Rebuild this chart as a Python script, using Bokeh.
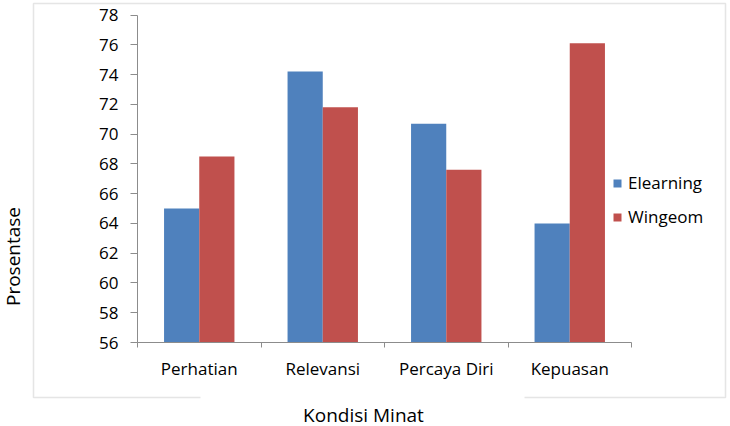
import math
from bokeh.plotting import figure
from bokeh.models import (ColumnDataSource, Range1d, FixedTicker, LinearAxis,
                          Label, PolyAnnotation, Legend, LegendItem)
from bokeh.embed import file_html
from bokeh.resources import INLINE

categories = ["Perhatian", "Relevansi", "Percaya Diri", "Kepuasan"]
elearning = [65.0, 74.2, 70.7, 64.0]
wingeom = [68.5, 71.8, 67.6, 76.1]
y_ticks = [56, 58, 60, 62, 64, 66, 68, 70, 72, 74, 76, 78]
x_title = "Kondisi Minat"
y_title = "Prosentase"
legend_labels = ["Elearning", "Wingeom"]

FONT = "Open Sans"
BLUE = "#4F81BD"
RED = "#C0504D"
GRID = "#8C8C8C"
BORDER = "#A8A8A8"

# canvas and plot-area layout (pixels from top-left)
W, H = 730, 426
PL, PR, PT, PB = 137, 631, 14.5, 342

n = len(categories)
x_lo, x_hi = -0.5, n - 0.5
y_lo, y_hi = y_ticks[0], y_ticks[-1]
kx = (PR - PL) / (x_hi - x_lo)
ky = (PB - PT) / (y_hi - y_lo)
x_range = Range1d(x_lo - PL / kx, x_hi + (W - PR) / kx)
y_range = Range1d(y_lo - (H - PB) / ky, y_hi + PT / ky)

idx = list(range(n))
bar_w = 0.285
src = ColumnDataSource(dict(
    xe=[i - bar_w / 2 for i in idx],
    xw=[i + bar_w / 2 for i in idx],
    e=elearning, w=wingeom,
))

p = figure(width=W, height=H, output_backend="svg", toolbar_location=None,
           x_range=x_range, y_range=y_range,
           x_axis_type=None, y_axis_type=None,
           min_border_left=0, min_border_right=0,
           min_border_top=0, min_border_bottom=0)
p.outline_line_color = None
p.background_fill_color = "white"
p.border_fill_color = "white"

# grid
p.ygrid.ticker = FixedTicker(ticks=y_ticks)
p.ygrid.grid_line_color = GRID
p.ygrid.grid_line_width = 1
p.ygrid.bounds = (x_lo, x_hi)
p.xgrid.visible = False

re = p.vbar(x="xe", top="e", bottom=y_lo, width=bar_w, source=src,
            fill_color=BLUE, line_color=None)
rw = p.vbar(x="xw", top="w", bottom=y_lo, width=bar_w, source=src,
            fill_color=RED, line_color=None)

# y axis
yax = LinearAxis(ticker=FixedTicker(ticks=y_ticks, minor_ticks=[]),
                 fixed_location=x_lo, bounds=(y_lo, y_hi))
yax.axis_line_color = GRID
yax.major_tick_line_color = GRID
yax.major_tick_out = 7
yax.major_tick_in = 0
yax.minor_tick_line_color = None
yax.major_label_standoff = 12
yax.major_label_text_font = FONT
yax.major_label_text_font_size = "17px"
yax.major_label_text_color = "black"
p.add_layout(yax, "left")

# x axis
bounds = [i - 0.5 for i in idx] + [idx[-1] + 0.5]
xax = LinearAxis(ticker=FixedTicker(ticks=idx, minor_ticks=bounds),
                 fixed_location=y_lo, bounds=(x_lo, x_hi))
xax.major_label_overrides = {i: c for i, c in zip(idx, categories)}
xax.axis_line_color = GRID
xax.major_tick_line_color = None
xax.major_tick_out = 0
xax.major_tick_in = 0
xax.minor_tick_line_color = GRID
xax.minor_tick_out = 5
xax.minor_tick_in = 0
xax.major_label_standoff = 9
xax.major_label_text_font = FONT
xax.major_label_text_font_size = "17px"
xax.major_label_text_color = "black"
p.add_layout(xax, "below")


def sx(px):
    return px


def sy(py):
    return H - py


# chart-area border (open at the bottom behind the title)
bpx = [200, 33, 33, 725, 725, 524]
bpy = [397, 397, 3, 3, 397, 397]
px = [sx(v) for v in bpx + bpx[-2:0:-1]]
py = [sy(v) for v in bpy + bpy[-2:0:-1]]
p.add_layout(PolyAnnotation(xs=px, ys=py, xs_units="screen", ys_units="screen",
                            fill_alpha=0, line_color=BORDER, line_width=1.5))

p.add_layout(Label(x=sx(363), y=sy(414), x_units="screen", y_units="screen",
                   text=x_title, text_align="center", text_baseline="alphabetic",
                   text_font=FONT, text_font_size="19px", text_color="black"))
p.add_layout(Label(x=sx(12), y=sy(256), x_units="screen", y_units="screen",
                   text=y_title, angle=math.pi / 2, text_align="center",
                   text_baseline="alphabetic",
                   text_font=FONT, text_font_size="19px", text_color="black"))

legend = Legend(items=[LegendItem(label=legend_labels[0], renderers=[re]),
                       LegendItem(label=legend_labels[1], renderers=[rw])],
                location=(sx(612), sy(228)))
legend.padding = 0
legend.margin = 0
legend.spacing = 11
legend.glyph_width = 10
legend.glyph_height = 10
legend.label_height = 20
legend.label_standoff = 6
legend.label_text_font = FONT
legend.label_text_font_size = "17px"
legend.label_text_color = "black"
legend.border_line_alpha = 0
legend.background_fill_alpha = 0
p.add_layout(legend, "center")

open("out.html", "w").write(file_html(p, INLINE))
